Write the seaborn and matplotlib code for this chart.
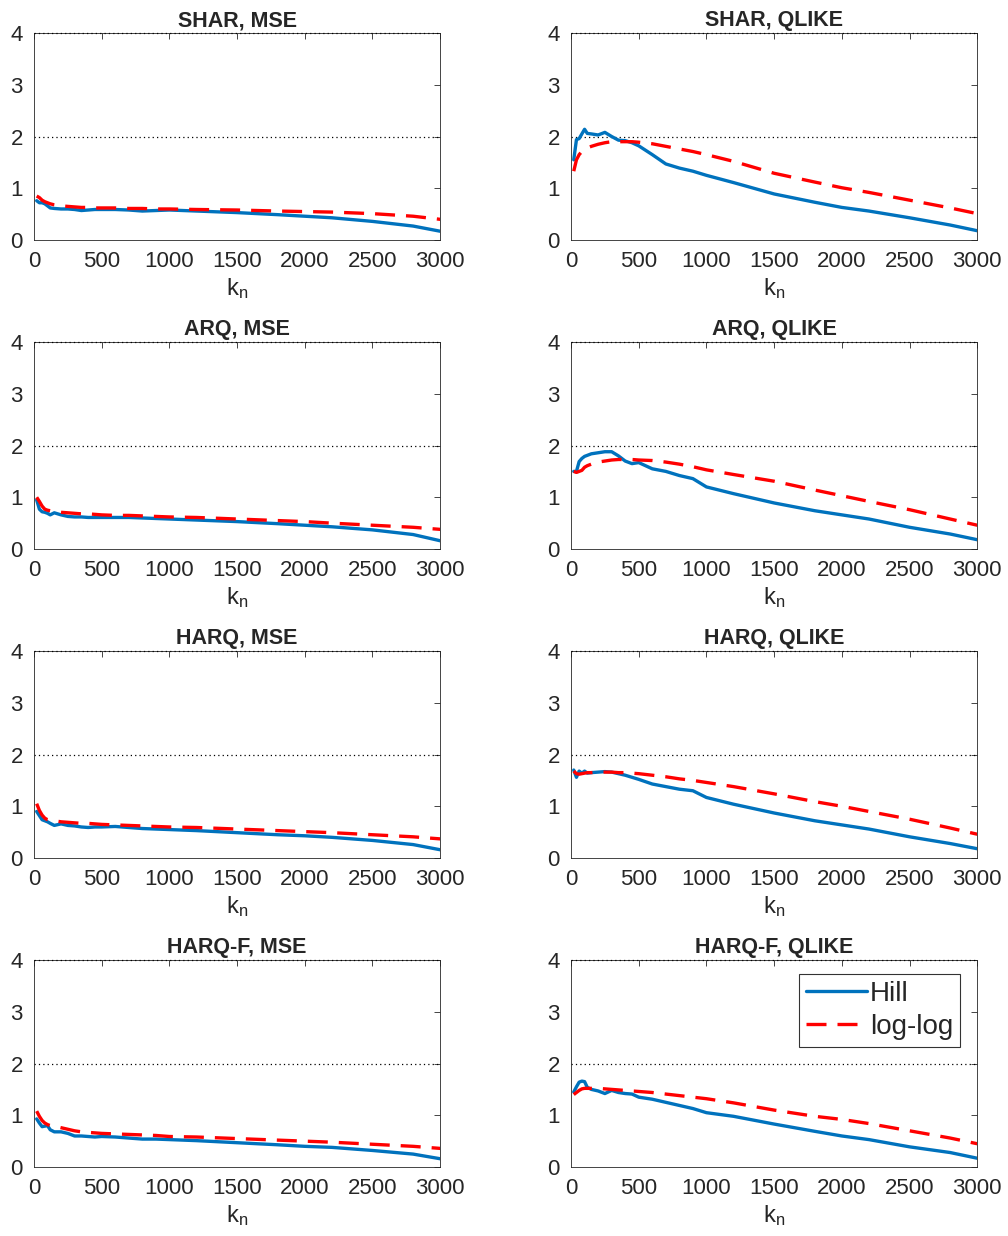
import numpy as np
import pandas as pd
import matplotlib
matplotlib.use("Agg")
import matplotlib.pyplot as plt
import seaborn as sns

sns.set_style("white")
plt.rcParams["font.family"] = ["Liberation Sans", "DejaVu Sans"]
plt.rcParams["mathtext.fontset"] = "custom"
plt.rcParams["mathtext.rm"] = "Liberation Sans"

# Number of tail observations used by the estimators
K = [20, 40, 60, 80, 100, 120, 150, 200, 250, 300, 350, 400, 450, 500, 600,
     700, 800, 900, 1000, 1200, 1500, 1800, 2000, 2200, 2500, 2800, 3000]

models = ["SHAR", "ARQ", "HARQ", "HARQ-F"]
losses = ["MSE", "QLIKE"]
estimators = ["Hill", "log-log"]

# Tail index estimates per model / loss function
shar_mse_hill = [0.76, 0.72, 0.72, 0.70, 0.66, 0.62, 0.61, 0.60, 0.60, 0.59, 0.57, 0.58, 0.59, 0.59, 0.59,
                 0.58, 0.56, 0.57, 0.58, 0.56, 0.53, 0.49, 0.46, 0.43, 0.36, 0.27, 0.17]
shar_mse_loglog = [0.85, 0.82, 0.77, 0.74, 0.72, 0.70, 0.68, 0.66, 0.65, 0.64, 0.63, 0.63, 0.62, 0.62, 0.62,
                   0.61, 0.61, 0.60, 0.60, 0.59, 0.58, 0.56, 0.55, 0.54, 0.51, 0.46, 0.40]
shar_qlike_hill = [1.55, 1.94, 1.96, 2.05, 2.14, 2.06, 2.05, 2.03, 2.08, 2.00, 1.93, 1.92, 1.88, 1.82, 1.65,
                   1.47, 1.39, 1.33, 1.25, 1.11, 0.89, 0.73, 0.63, 0.56, 0.43, 0.29, 0.18]
shar_qlike_loglog = [1.33, 1.55, 1.65, 1.71, 1.75, 1.78, 1.81, 1.85, 1.88, 1.90, 1.90, 1.90, 1.90, 1.89, 1.86,
                     1.81, 1.76, 1.71, 1.65, 1.52, 1.29, 1.12, 1.01, 0.92, 0.77, 0.62, 0.51]
arq_mse_hill = [0.95, 0.77, 0.72, 0.71, 0.69, 0.66, 0.70, 0.66, 0.63, 0.62, 0.62, 0.61, 0.61, 0.61, 0.61,
                0.61, 0.60, 0.59, 0.58, 0.56, 0.53, 0.49, 0.46, 0.43, 0.37, 0.28, 0.16]
arq_mse_loglog = [1.00, 0.92, 0.83, 0.77, 0.75, 0.74, 0.73, 0.71, 0.70, 0.69, 0.68, 0.68, 0.67, 0.66, 0.65,
                  0.65, 0.64, 0.63, 0.62, 0.61, 0.58, 0.55, 0.53, 0.50, 0.46, 0.42, 0.38]
arq_qlike_hill = [1.50, 1.50, 1.69, 1.75, 1.79, 1.81, 1.84, 1.86, 1.88, 1.88, 1.80, 1.70, 1.65, 1.67, 1.55,
                  1.50, 1.42, 1.36, 1.20, 1.07, 0.89, 0.74, 0.66, 0.58, 0.42, 0.29, 0.18]
arq_qlike_loglog = [1.50, 1.48, 1.50, 1.52, 1.58, 1.61, 1.64, 1.68, 1.70, 1.72, 1.73, 1.73, 1.73, 1.72, 1.71,
                    1.68, 1.64, 1.59, 1.53, 1.44, 1.31, 1.14, 1.03, 0.92, 0.76, 0.58, 0.46]
harq_mse_hill = [0.90, 0.82, 0.74, 0.72, 0.70, 0.67, 0.63, 0.66, 0.63, 0.62, 0.60, 0.59, 0.60, 0.60, 0.61,
                 0.59, 0.57, 0.56, 0.55, 0.53, 0.49, 0.45, 0.43, 0.40, 0.34, 0.26, 0.16]
harq_mse_loglog = [1.05, 0.92, 0.83, 0.77, 0.74, 0.73, 0.72, 0.70, 0.69, 0.68, 0.67, 0.67, 0.66, 0.65, 0.64,
                   0.63, 0.62, 0.61, 0.60, 0.59, 0.56, 0.53, 0.51, 0.49, 0.45, 0.41, 0.37]
harq_qlike_hill = [1.70, 1.56, 1.68, 1.64, 1.68, 1.64, 1.65, 1.66, 1.67, 1.66, 1.63, 1.60, 1.56, 1.52, 1.43,
                   1.38, 1.33, 1.30, 1.17, 1.04, 0.87, 0.72, 0.64, 0.56, 0.41, 0.28, 0.18]
harq_qlike_loglog = [1.68, 1.63, 1.62, 1.63, 1.64, 1.65, 1.65, 1.66, 1.66, 1.66, 1.65, 1.65, 1.64, 1.63, 1.60,
                     1.57, 1.53, 1.50, 1.46, 1.38, 1.24, 1.09, 1.00, 0.90, 0.75, 0.58, 0.46]
harqf_mse_hill = [0.93, 0.85, 0.78, 0.79, 0.80, 0.72, 0.68, 0.68, 0.65, 0.60, 0.60, 0.59, 0.58, 0.59, 0.58,
                  0.56, 0.54, 0.54, 0.53, 0.51, 0.47, 0.43, 0.40, 0.38, 0.32, 0.25, 0.16]
harqf_mse_loglog = [1.08, 0.98, 0.90, 0.85, 0.82, 0.80, 0.79, 0.76, 0.73, 0.70, 0.68, 0.67, 0.66, 0.65, 0.64,
                    0.63, 0.62, 0.61, 0.59, 0.58, 0.55, 0.52, 0.50, 0.48, 0.44, 0.40, 0.36]
harqf_qlike_hill = [1.45, 1.55, 1.64, 1.66, 1.65, 1.54, 1.50, 1.47, 1.42, 1.48, 1.44, 1.42, 1.41, 1.35, 1.31,
                    1.25, 1.19, 1.13, 1.05, 0.98, 0.83, 0.69, 0.60, 0.53, 0.39, 0.28, 0.17]
harqf_qlike_loglog = [1.40, 1.44, 1.48, 1.51, 1.52, 1.52, 1.52, 1.52, 1.51, 1.50, 1.49, 1.48, 1.47, 1.46, 1.44,
                      1.41, 1.38, 1.35, 1.32, 1.24, 1.10, 0.98, 0.92, 0.84, 0.70, 0.56, 0.45]

series = {
    ("SHAR", "MSE"): (shar_mse_hill, shar_mse_loglog),
    ("SHAR", "QLIKE"): (shar_qlike_hill, shar_qlike_loglog),
    ("ARQ", "MSE"): (arq_mse_hill, arq_mse_loglog),
    ("ARQ", "QLIKE"): (arq_qlike_hill, arq_qlike_loglog),
    ("HARQ", "MSE"): (harq_mse_hill, harq_mse_loglog),
    ("HARQ", "QLIKE"): (harq_qlike_hill, harq_qlike_loglog),
    ("HARQ-F", "MSE"): (harqf_mse_hill, harqf_mse_loglog),
    ("HARQ-F", "QLIKE"): (harqf_qlike_hill, harqf_qlike_loglog),
}

xticks = [0, 500, 1000, 1500, 2000, 2500, 3000]
yticks = [0, 1, 2, 3, 4]

blue = "#0072BD"
red = "#FF0000"
axis_gray = "#262626"

fig = plt.figure(figsize=(10.08, 12.36), dpi=100)
lefts = [0.0337, 0.5665]
bottoms = [0.8058, 0.5558, 0.3058, 0.0558]
w, h = 0.403, 0.1675

for r, model in enumerate(models):
    for c, loss in enumerate(losses):
        ax = fig.add_axes([lefts[c], bottoms[r], w, h])
        hill, loglog = series[(model, loss)]
        df = pd.DataFrame({"k": K * 2,
                           "value": hill + loglog,
                           "estimator": ["Hill"] * len(K) + ["log-log"] * len(K)})
        sns.lineplot(data=df[df.estimator == "Hill"], x="k", y="value", ax=ax,
                     color=blue, lw=2.4, label="Hill", legend=False, zorder=3)
        sns.lineplot(data=df[df.estimator == "log-log"], x="k", y="value", ax=ax,
                     color=red, lw=2.4, label="log-log", legend=False, zorder=4,
                     dashes=False)
        ax.lines[-1].set_dashes((6, 3.3))
        ax.axhline(2, color="black", lw=0.9, ls=(0, (1, 2.5)), zorder=2)
        ax.axhline(4, color="black", lw=0.9, ls=(0, (1, 2.5)), zorder=5, clip_on=False)

        ax.set_xlim(0, 3000)
        ax.set_ylim(0, 4)
        ax.set_xticks(xticks)
        ax.set_yticks(yticks)
        ax.tick_params(direction="in", length=4, width=0.6, colors=axis_gray,
                       labelsize=16, top=True, right=True)
        ax.tick_params(axis="x", pad=8)
        ax.tick_params(axis="y", pad=8)
        for s in ax.spines.values():
            s.set_color(axis_gray)
            s.set_linewidth(0.6)
            s.set_visible(True)
        ax.set_title(f"{model}, {loss}", fontsize=15.5, fontweight="bold", pad=5)
        ax.set_xlabel(r"$\mathregular{k_n}$", fontsize=17, color=axis_gray, labelpad=3)
        ax.set_ylabel("")

        if r == 3 and c == 1:
            leg = ax.legend(loc="upper right", bbox_to_anchor=(0.958, 0.932),
                            fontsize=20, frameon=True, fancybox=False,
                            handlelength=2.2, handletextpad=0.1,
                            borderpad=0.25, labelspacing=0.25, borderaxespad=0)
            leg.get_frame().set_edgecolor("black")
            leg.get_frame().set_linewidth(0.8)
            for t in leg.get_texts():
                t.set_color(axis_gray)

fig.savefig("out.png", dpi=100, facecolor="white")
